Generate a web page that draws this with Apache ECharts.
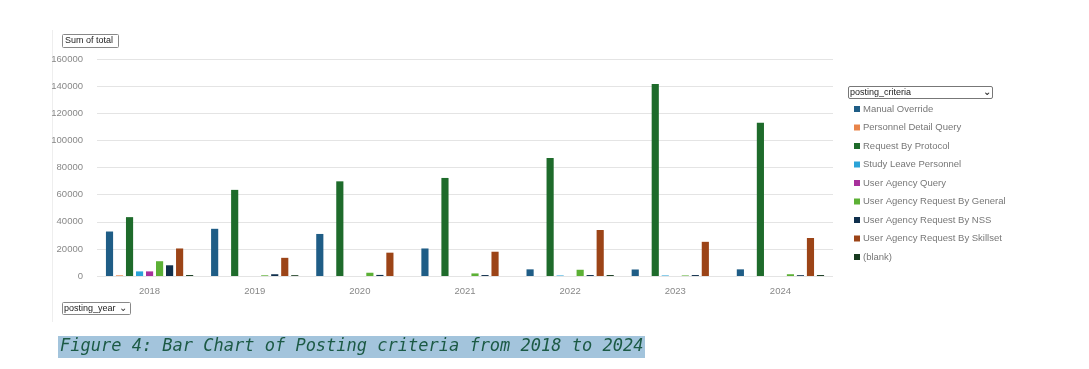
<!DOCTYPE html>
<html>
<head>
<meta charset="utf-8">
<script src="https://cdn.jsdelivr.net/npm/echarts@6/dist/echarts.min.js"></script>
<style>
html,body{margin:0;padding:0;background:#fff;}
#chart{width:1089px;height:369px;}
</style>
</head>
<body>
<div id="chart"></div>
<script>
const years = ['2018','2019','2020','2021','2022','2023','2024'];
const seriesNames = ['Manual Override','Personnel Detail Query','Request By Protocol','Study Leave Personnel','User Agency Query','User Agency Request By General','User Agency Request By NSS','User Agency Request By Skillset','(blank)'];
const manualOverride   = [32800, 34800, 31000, 20300, 4900, 4800, 4900];
const personnelDetail  = [500, 0, 0, 0, 0, 0, 0];
const requestProtocol  = [43400, 63500, 69800, 72300, 87000, 141500, 113000];
const studyLeave       = [3400, 0, 0, 0, 400, 400, 0];
const userAgencyQuery  = [3400, 0, 0, 0, 0, 0, 0];
const uaGeneral        = [10900, 500, 2400, 1900, 4600, 400, 1300];
const uaNSS            = [7900, 1300, 800, 700, 700, 700, 600];
const uaSkillset       = [20300, 13400, 17200, 17900, 33900, 25200, 28000];
const blank            = [700, 600, 0, 0, 700, 0, 700];
const yTicks = [0, 20000, 40000, 60000, 80000, 100000, 120000, 140000, 160000];
const colors = ['#1f5d86','#e8844a','#1e6b2b','#2aa3d8','#a8309c','#5cb035','#10304d','#9c4417','#173a1e'];
const seriesData = [manualOverride, personnelDetail, requestProtocol, studyLeave, userAgencyQuery, uaGeneral, uaNSS, uaSkillset, blank];

const chart = echarts.init(document.getElementById('chart'), null, {renderer:'canvas'});
const font = '"Liberation Sans", Arial, sans-serif';
chart.setOption({
  animation: false,
  color: colors,
  grid: {left: 97, right: 256, top: 59, bottom: 93, containLabel: false},
  legend: {
    orient: 'vertical', left: 849, top: 99,
    icon: 'rect', itemWidth: 6, itemHeight: 6, itemGap: 8.5,
    textStyle: {fontFamily: font, fontSize: 9.5, color: '#777', padding: [0,0,0,-2]},
    data: seriesNames
  },
  xAxis: {
    type: 'category', data: years,
    axisLine: {show: false}, axisTick: {show: false},
    axisLabel: {fontFamily: font, fontSize: 9.5, color: '#888', margin: 10}
  },
  yAxis: {
    type: 'value', min: yTicks[0], max: yTicks[yTicks.length-1], interval: 20000,
    axisLabel: {fontFamily: font, fontSize: 9.5, color: '#888', margin: 14, formatter: v => String(v)},
    splitLine: {lineStyle: {color: '#e4e4e4', width: 1}}
  },
  series: seriesNames.map((n, i) => ({
    name: n, type: 'bar', data: seriesData[i],
    barGap: '40%', barCategoryGap: '17%'
  })),
  graphic: [
    {type: 'line', shape: {x1: 52.5, y1: 30, x2: 52.5, y2: 322}, style: {stroke: '#eeeeee', lineWidth: 1}},
    {type: 'rect', shape: {x: 62.5, y: 34.5, width: 56, height: 13, r: 1}, style: {fill: '#fff', stroke: '#888', lineWidth: 1}},
    {type: 'text', x: 65, y: 36, style: {text: 'Sum of total', font: '9px ' + font, fill: '#222'}},
    {type: 'rect', shape: {x: 848.5, y: 86.5, width: 144, height: 12, r: 1.5}, style: {fill: '#fff', stroke: '#777', lineWidth: 1}},
    {type: 'text', x: 850, y: 88, style: {text: 'posting_criteria', font: '9px ' + font, fill: '#222'}},
    {type: 'text', x: 983, y: 87, style: {text: '⌄', font: 'bold 10px "DejaVu Sans"', fill: '#333'}},
    {type: 'rect', shape: {x: 62.5, y: 302.5, width: 68, height: 12, r: 1}, style: {fill: '#fff', stroke: '#888', lineWidth: 1}},
    {type: 'text', x: 64, y: 304, style: {text: 'posting_year', font: '9px ' + font, fill: '#222'}},
    {type: 'text', x: 119, y: 303, style: {text: '⌄', font: '10px "DejaVu Sans"', fill: '#333'}},
    {type: 'rect', shape: {x: 58, y: 336, width: 587, height: 22}, style: {fill: '#a3c4dc'}},
    {type: 'text', x: 60, y: 338, style: {text: 'Figure 4: Bar Chart of Posting criteria from 2018 to 2024', font: 'italic 17px "DejaVu Sans Mono"', fill: '#1c5a45'}}
  ]
});
</script>
</body>
</html>
